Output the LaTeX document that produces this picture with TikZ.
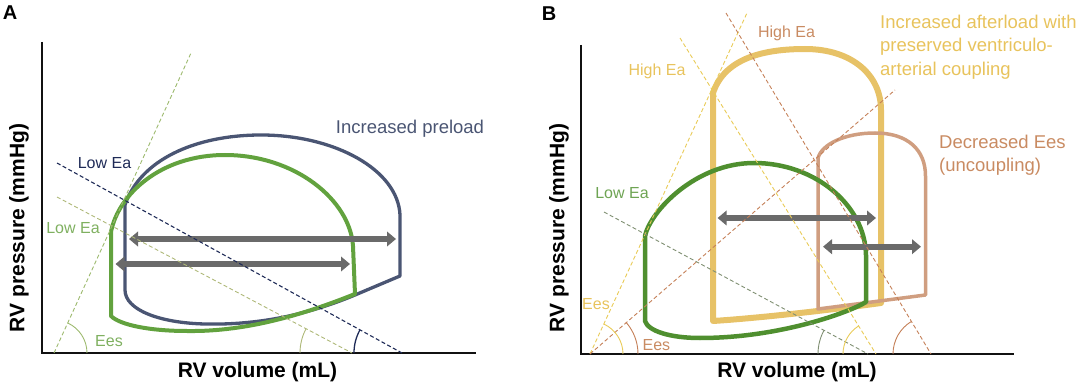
\documentclass[tikz,border=0pt]{standalone}
\usepackage{fontspec}
\setmainfont{Liberation Sans}
\usetikzlibrary{arrows.meta}
\definecolor{axiscol}{HTML}{111111}
\definecolor{navyloop}{HTML}{4A5573}
\definecolor{navyD}{HTML}{1F2B57}
\definecolor{greenA}{HTML}{62A23E}
\definecolor{greenT}{HTML}{7FB060}
\definecolor{oliveA}{HTML}{9DBA6E}
\definecolor{oliveLow}{HTML}{AEB878}
\definecolor{greenB}{HTML}{4F8F2F}
\definecolor{greenBT}{HTML}{6EA453}
\definecolor{lowEaLine}{HTML}{7F8F72}
\definecolor{yellowL}{HTML}{E7C267}
\definecolor{yellowT}{HTML}{E8C35C}
\definecolor{yellowD}{HTML}{E9CB57}
\definecolor{brownL}{HTML}{D09E80}
\definecolor{brownT}{HTML}{C98B62}
\definecolor{brownD}{HTML}{C58058}
\definecolor{arrowgray}{HTML}{6A6A6A}
\begin{document}
\begin{tikzpicture}[x=1pt,y=-1pt,
  axisline/.style={line width=2.5pt, draw=axiscol},
  dline/.style={dash pattern=on 4pt off 2.5pt, line width=0.9pt},
  angarc/.style={line width=0.9pt},
  pvloop/.style={line join=round, line cap=round},
  grayarrow/.style={draw=arrowgray, line width=6.3pt, {Triangle[length=9pt,width=14.5pt]}-{Triangle[length=9pt,width=14.5pt]}},
  lbl/.style={inner sep=0pt, font=\fontsize{16}{19}\selectfont},
  biglbl/.style={inner sep=0pt, font=\fontsize{18.5}{23.3}\selectfont, align=left},
  axlbl/.style={inner sep=0pt, font=\bfseries\fontsize{21}{25}\selectfont},
  panel/.style={inner sep=0pt, font=\bfseries\fontsize{20}{24}\selectfont}
]
\useasboundingbox (0,0) rectangle (1080,385);

% ================= Panel A =================
\node[panel, anchor=base] (PA) at (10,20) {A};
\coordinate (Ay) at (42,42);
\coordinate (Ao) at (42,353);
\coordinate (Ax) at (476,353);
\draw[axisline] (Ay) -- (Ao) -- (Ax);
\node[axlbl, rotate=90] (AyL) at (19,228) {RV pressure (mmHg)};
\node[axlbl, anchor=base] (AxL) at (257.5,377.5) {RV volume (mL)};

% loops
\draw[pvloop, draw=navyloop, line width=3.3pt]
  (125,205) .. controls (140,160) and (195,135) .. (261,135)
  .. controls (335,135) and (398,170) .. (400,215) -- (400,276) -- (355,295)
  .. controls (300,318) and (250,325) .. (205,324)
  .. controls (160,323) and (125,310) .. (125,290) -- cycle;
\draw[pvloop, draw=greenA, line width=4pt]
  (111,232) .. controls (118,195) and (160,155) .. (225,155)
  .. controls (295,155) and (350,200) .. (353,246) -- (355,294)
  .. controls (310,312) and (250,332) .. (187,331)
  .. controls (150,331) and (120,325) .. (111,316) -- cycle;

% arrows
\coordinate (a1l) at (129,239); \coordinate (a1r) at (396,239);
\coordinate (a2l) at (115.5,264); \coordinate (a2r) at (350,264);
\draw[grayarrow] (a1l) -- (a1r);
\draw[grayarrow] (a2l) -- (a2r);

% dashed lines
\coordinate (eesA0) at (54,353); \coordinate (eesA1) at (191,53);
\coordinate (eaNa0) at (57,163); \coordinate (eaNa1) at (402,353);
\coordinate (eaGa0) at (57,197); \coordinate (eaGa1) at (352,353);
\draw[dline, draw=oliveA] (eesA0) -- (eesA1);
\draw[dline, draw=oliveLow] (eaGa0) -- (eaGa1);
\draw[dline, draw=navyD, line width=1.1pt] (eaNa0) -- (eaNa1);

% angle arcs
\draw[angarc, draw=oliveA] (eesA0) ++(33,0) arc[start angle=0, end angle=-65.5, radius=33];
\draw[angarc, draw=oliveLow] (eaGa1) ++(-52,0) arc[start angle=180, end angle=207.9, radius=52];
\draw[angarc, draw=navyD, line width=1.3pt] (eaNa1) ++(-48,0) arc[start angle=180, end angle=208.8, radius=48];

% labels
\node[lbl, text=navyD, anchor=base] (lowEaN) at (104.5,169) {Low Ea};
\node[lbl, text=greenT, anchor=base] (lowEaG) at (73,233.5) {Low Ea};
\node[lbl, text=greenT, anchor=base] (eesAL) at (109,346.5) {Ees};
\node[biglbl, text=navyloop, anchor=base] (incPre) at (410,134) {Increased preload};

% ================= Panel B =================
\node[panel, anchor=base] (PB) at (549,21) {B};
\coordinate (By) at (581,45);
\coordinate (Bo) at (581,354);
\coordinate (Bx) at (1014,354);
\draw[axisline] (By) -- (Bo) -- (Bx);
\node[axlbl, rotate=90] (ByL) at (559,228) {RV pressure (mmHg)};
\node[axlbl, anchor=base] (BxL) at (797,377.5) {RV volume (mL)};

% loops
\draw[pvloop, draw=yellowL, line width=6pt]
  (713,321) -- (713,93) .. controls (724,60) and (760,49) .. (805,49)
  .. controls (852,49) and (881,75) .. (881,110) -- (881,303)
  .. controls (830,310) and (760,318) .. (713,321) -- cycle;
\draw[pvloop, draw=brownL, line width=3.5pt]
  (818,309) -- (818,158) .. controls (822,144) and (845,133) .. (875,133)
  .. controls (908,133) and (925.5,150) .. (925.5,176) -- (925.5,295) -- cycle;
\draw[pvloop, draw=greenB, line width=4.5pt]
  (645,236) .. controls (650,212) and (695,163) .. (754,163)
  .. controls (815,163) and (865,205) .. (866,255) -- (866,302)
  .. controls (850,312) and (780,338) .. (700,338)
  .. controls (670,338) and (648,331) .. (645,321) -- cycle;

% arrows
\coordinate (b1l) at (717.6,218); \coordinate (b1r) at (876,218);
\coordinate (b2l) at (823,246.7); \coordinate (b2r) at (921,246.7);
\draw[grayarrow] (b1l) -- (b1r);
\draw[grayarrow] (b2l) -- (b2r);

% dashed lines
\coordinate (eesY0) at (590,354); \coordinate (eesY1) at (747,13);
\coordinate (eesB1) at (895,90);
\coordinate (hiY0) at (680,38); \coordinate (hiY1) at (876,354);
\coordinate (hiB0) at (726,13); \coordinate (hiB1) at (931,354);
\coordinate (loB0) at (604,212); \coordinate (loB1) at (868,354);
\draw[dline, draw=yellowD] (eesY0) -- (eesY1);
\draw[dline, draw=brownD] (eesY0) -- (eesB1);
\draw[dline, draw=yellowD] (hiY0) -- (hiY1);
\draw[dline, draw=brownD] (hiB0) -- (hiB1);
\draw[dline, draw=lowEaLine] (loB0) -- (loB1);

% angle arcs
\draw[angarc, draw=yellowD] (eesY0) ++(33,0) arc[start angle=0, end angle=-65.3, radius=33];
\draw[angarc, draw=brownD] (eesY0) ++(48,0) arc[start angle=0, end angle=-40.9, radius=48];
\draw[angarc, draw=lowEaLine] (loB1) ++(-50,0) arc[start angle=180, end angle=208.3, radius=50];
\draw[angarc, draw=yellowD] (hiY1) ++(-33,0) arc[start angle=180, end angle=238.2, radius=33];
\draw[angarc, draw=brownD] (hiB1) ++(-38,0) arc[start angle=180, end angle=239, radius=38];

% labels
\node[lbl, text=yellowT, anchor=base] (hiEaYL) at (657,76) {High Ea};
\node[lbl, text=brownT, anchor=base] (hiEaBL) at (786.5,37.7) {High Ea};
\node[biglbl, text=yellowT, anchor=north west] (incAft) at (880,14.8) {Increased afterload with\\preserved ventriculo-\\arterial coupling};
\node[biglbl, text=brownT, anchor=north west] (decEes) at (939,134.8) {Decreased Ees\\(uncoupling)};
\node[lbl, text=greenBT, anchor=base] (lowEaBL) at (622,198.4) {Low Ea};
\node[lbl, text=yellowT, anchor=base] (eesBY) at (596,309) {Ees};
\node[lbl, text=brownT, anchor=base] (eesBB) at (656.4,350.7) {Ees};
\end{tikzpicture}
\end{document}
